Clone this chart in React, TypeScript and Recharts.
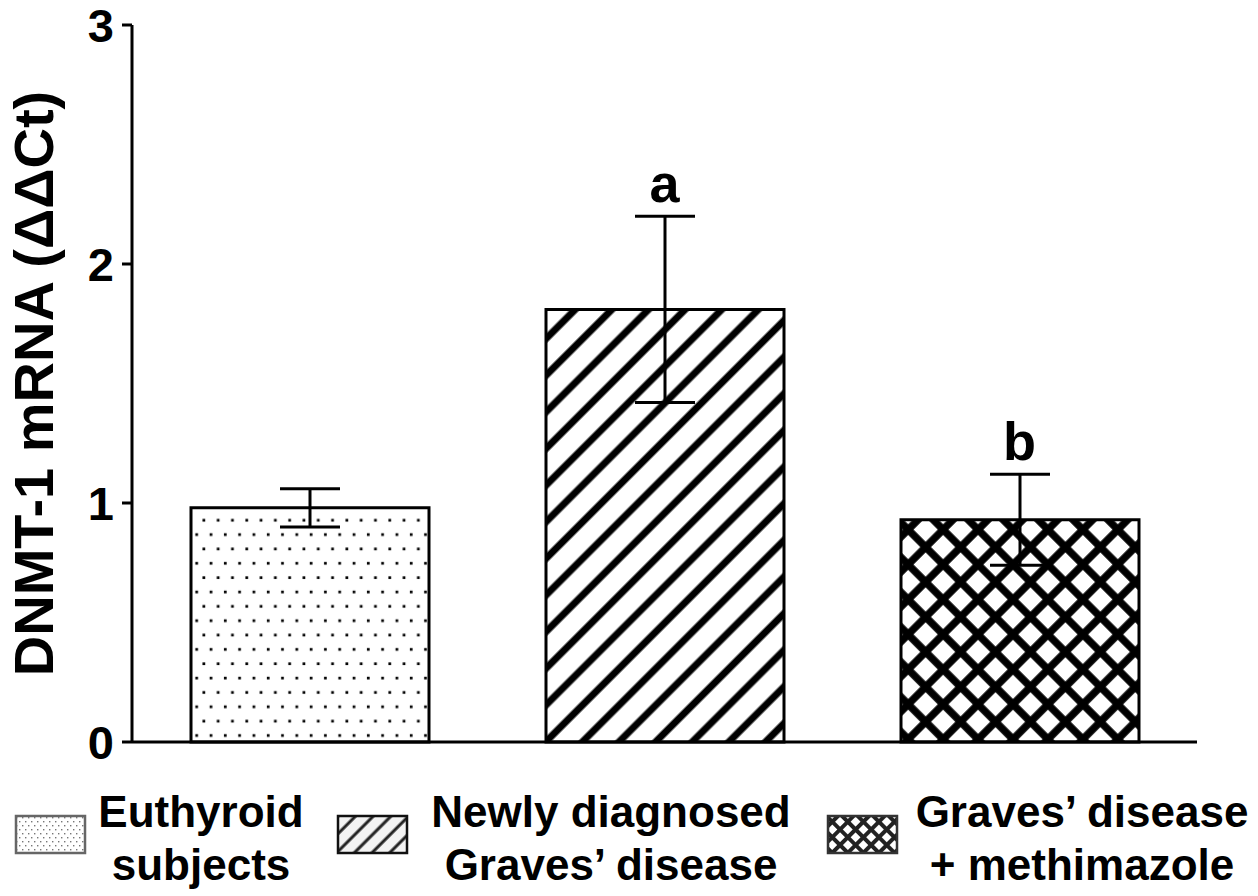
import React from 'react'
import { BarChart, Bar, Cell, XAxis, YAxis, ErrorBar, ReferenceDot, Legend } from 'recharts'

const groups = ['Euthyroid subjects', 'Newly diagnosed Graves’ disease', 'Graves’ disease + methimazole']
const legendLine1 = ['Euthyroid', 'Newly diagnosed', 'Graves’ disease']
const legendLine2 = ['subjects', 'Graves’ disease', '+ methimazole']
const means = [0.98, 1.81, 0.93]
const sems = [0.08, 0.39, 0.19]
const letters = ['', 'a', 'b']
const yTicks = [0, 1, 2, 3]

const barFills = ['url(#dots)', 'url(#stripes)', 'url(#cross)']
const swatchFills = ['url(#lgDots)', 'url(#lgStripes)', 'url(#lgCross)']
const swatchStrokes = ['#666', '#111', '#333']

const data = groups.map((g, i) => ({ group: g, mean: means[i], err: sems[i], top: means[i] + sems[i] }))

const FONT = '"Liberation Sans", Arial, Helvetica, sans-serif'

// legend placement (px inside the legend strip)
const swatchX = [16, 338, 828]
const textX = [201, 611, 1082]

function PatternLegend() {
  return (
    <svg width={1258} height={110} style={{ display: 'block' }}>
      <defs>
        <pattern id="lgDots" patternUnits="userSpaceOnUse" width={6} height={8}>
          <rect width={6} height={8} fill="#fff" />
          <rect x={1} y={1} width={1.4} height={1.4} fill="#777" />
          <rect x={4} y={5} width={1.4} height={1.4} fill="#777" />
        </pattern>
        <pattern id="lgStripes" patternUnits="userSpaceOnUse" width={12.5} height={12.5} patternTransform="rotate(45)">
          <rect width={12.5} height={12.5} fill="#f3f3f3" />
          <line x1={2} y1={0} x2={2} y2={12.5} stroke="#222" strokeWidth={3} />
        </pattern>
        <pattern id="lgCross" patternUnits="userSpaceOnUse" width={11} height={11} patternTransform="rotate(45)">
          <rect width={11} height={11} fill="#fff" />
          <line x1={2} y1={0} x2={2} y2={11} stroke="#222" strokeWidth={4} />
          <line x1={0} y1={2} x2={11} y2={2} stroke="#222" strokeWidth={4} />
        </pattern>
      </defs>
      {legendLine1.map((t, i) => (
        <g key={t}>
          <rect x={swatchX[i]} y={36} width={69} height={37} fill={swatchFills[i]} stroke={swatchStrokes[i]} strokeWidth={2.5} />
          <text x={textX[i]} y={47} textAnchor="middle" fontFamily={FONT} fontWeight={700} fontSize={44} fill="#000">{t}</text>
          <text x={textX[i]} y={100} textAnchor="middle" fontFamily={FONT} fontWeight={700} fontSize={44} fill="#000">{legendLine2[i]}</text>
        </g>
      ))}
    </svg>
  )
}

export default function App() {
  return (
    <div style={{ position: 'absolute', left: 0, top: 0, background: '#fff', fontFamily: FONT }}>
      <BarChart width={1258} height={896} data={data} margin={{ top: 25, right: 61, left: 0, bottom: 136 }} barSize={238}>
        <defs>
          <pattern id="dots" patternUnits="userSpaceOnUse" width={14.3} height={28.7}>
            <rect width={14.3} height={28.7} fill="#fff" />
            <rect x={2.3} y={2.3} width={2.7} height={2.7} fill="#000" />
            <rect x={9.45} y={16.65} width={2.7} height={2.7} fill="#000" />
          </pattern>
          <pattern id="stripes" patternUnits="userSpaceOnUse" width={25.9} height={25.9} patternTransform="rotate(45)">
            <rect width={25.9} height={25.9} fill="#fff" />
            <line x1={4} y1={0} x2={4} y2={25.9} stroke="#000" strokeWidth={7} />
          </pattern>
          <pattern id="cross" patternUnits="userSpaceOnUse" width={24.7} height={24.7} patternTransform="rotate(45)">
            <rect width={24.7} height={24.7} fill="#fff" />
            <line x1={4} y1={0} x2={4} y2={24.7} stroke="#000" strokeWidth={7.5} />
            <line x1={0} y1={4} x2={24.7} y2={4} stroke="#000" strokeWidth={7.5} />
          </pattern>
        </defs>
        <XAxis dataKey="group" tick={false} tickLine={false} height={18} axisLine={{ stroke: '#000', strokeWidth: 3 }} />
        <YAxis
          width={132}
          domain={[0, 3]}
          ticks={yTicks}
          interval={0}
          tickSize={10}
          tickMargin={8}
          axisLine={{ stroke: '#000', strokeWidth: 3 }}
          tickLine={{ stroke: '#000', strokeWidth: 3 }}
          tick={{ fill: '#000', fontSize: 47, fontWeight: 700, fontFamily: FONT }}
          label={{
            value: 'DNMT-1 mRNA (ΔΔCt)',
            angle: -90,
            position: 'insideLeft',
            offset: 33,
            style: { textAnchor: 'middle', fontSize: 56, fontWeight: 700, fill: '#000', fontFamily: FONT },
          }}
        />
        <Bar dataKey="mean" stroke="#000" strokeWidth={3} isAnimationActive={false}>
          {data.map((d, i) => (
            <Cell key={d.group} fill={barFills[i]} />
          ))}
          <ErrorBar dataKey="err" width={30} stroke="#000" strokeWidth={3} isAnimationActive={false} />
        </Bar>
        {data.map((d, i) =>
          letters[i] ? (
            <ReferenceDot
              key={d.group}
              x={d.group}
              y={d.top}
              r={1}
              fill="none"
              stroke="none"
              label={{ value: letters[i], position: 'top', offset: 13, fontSize: 54, fontWeight: 700, fill: '#000', fontFamily: FONT }}
            />
          ) : null
        )}
        <Legend
          layout="horizontal"
          verticalAlign="middle"
          align="center"
          wrapperStyle={{ top: 780, left: 0, width: 1258, height: 110 }}
          content={() => <PatternLegend />}
        />
      </BarChart>
    </div>
  )
}
